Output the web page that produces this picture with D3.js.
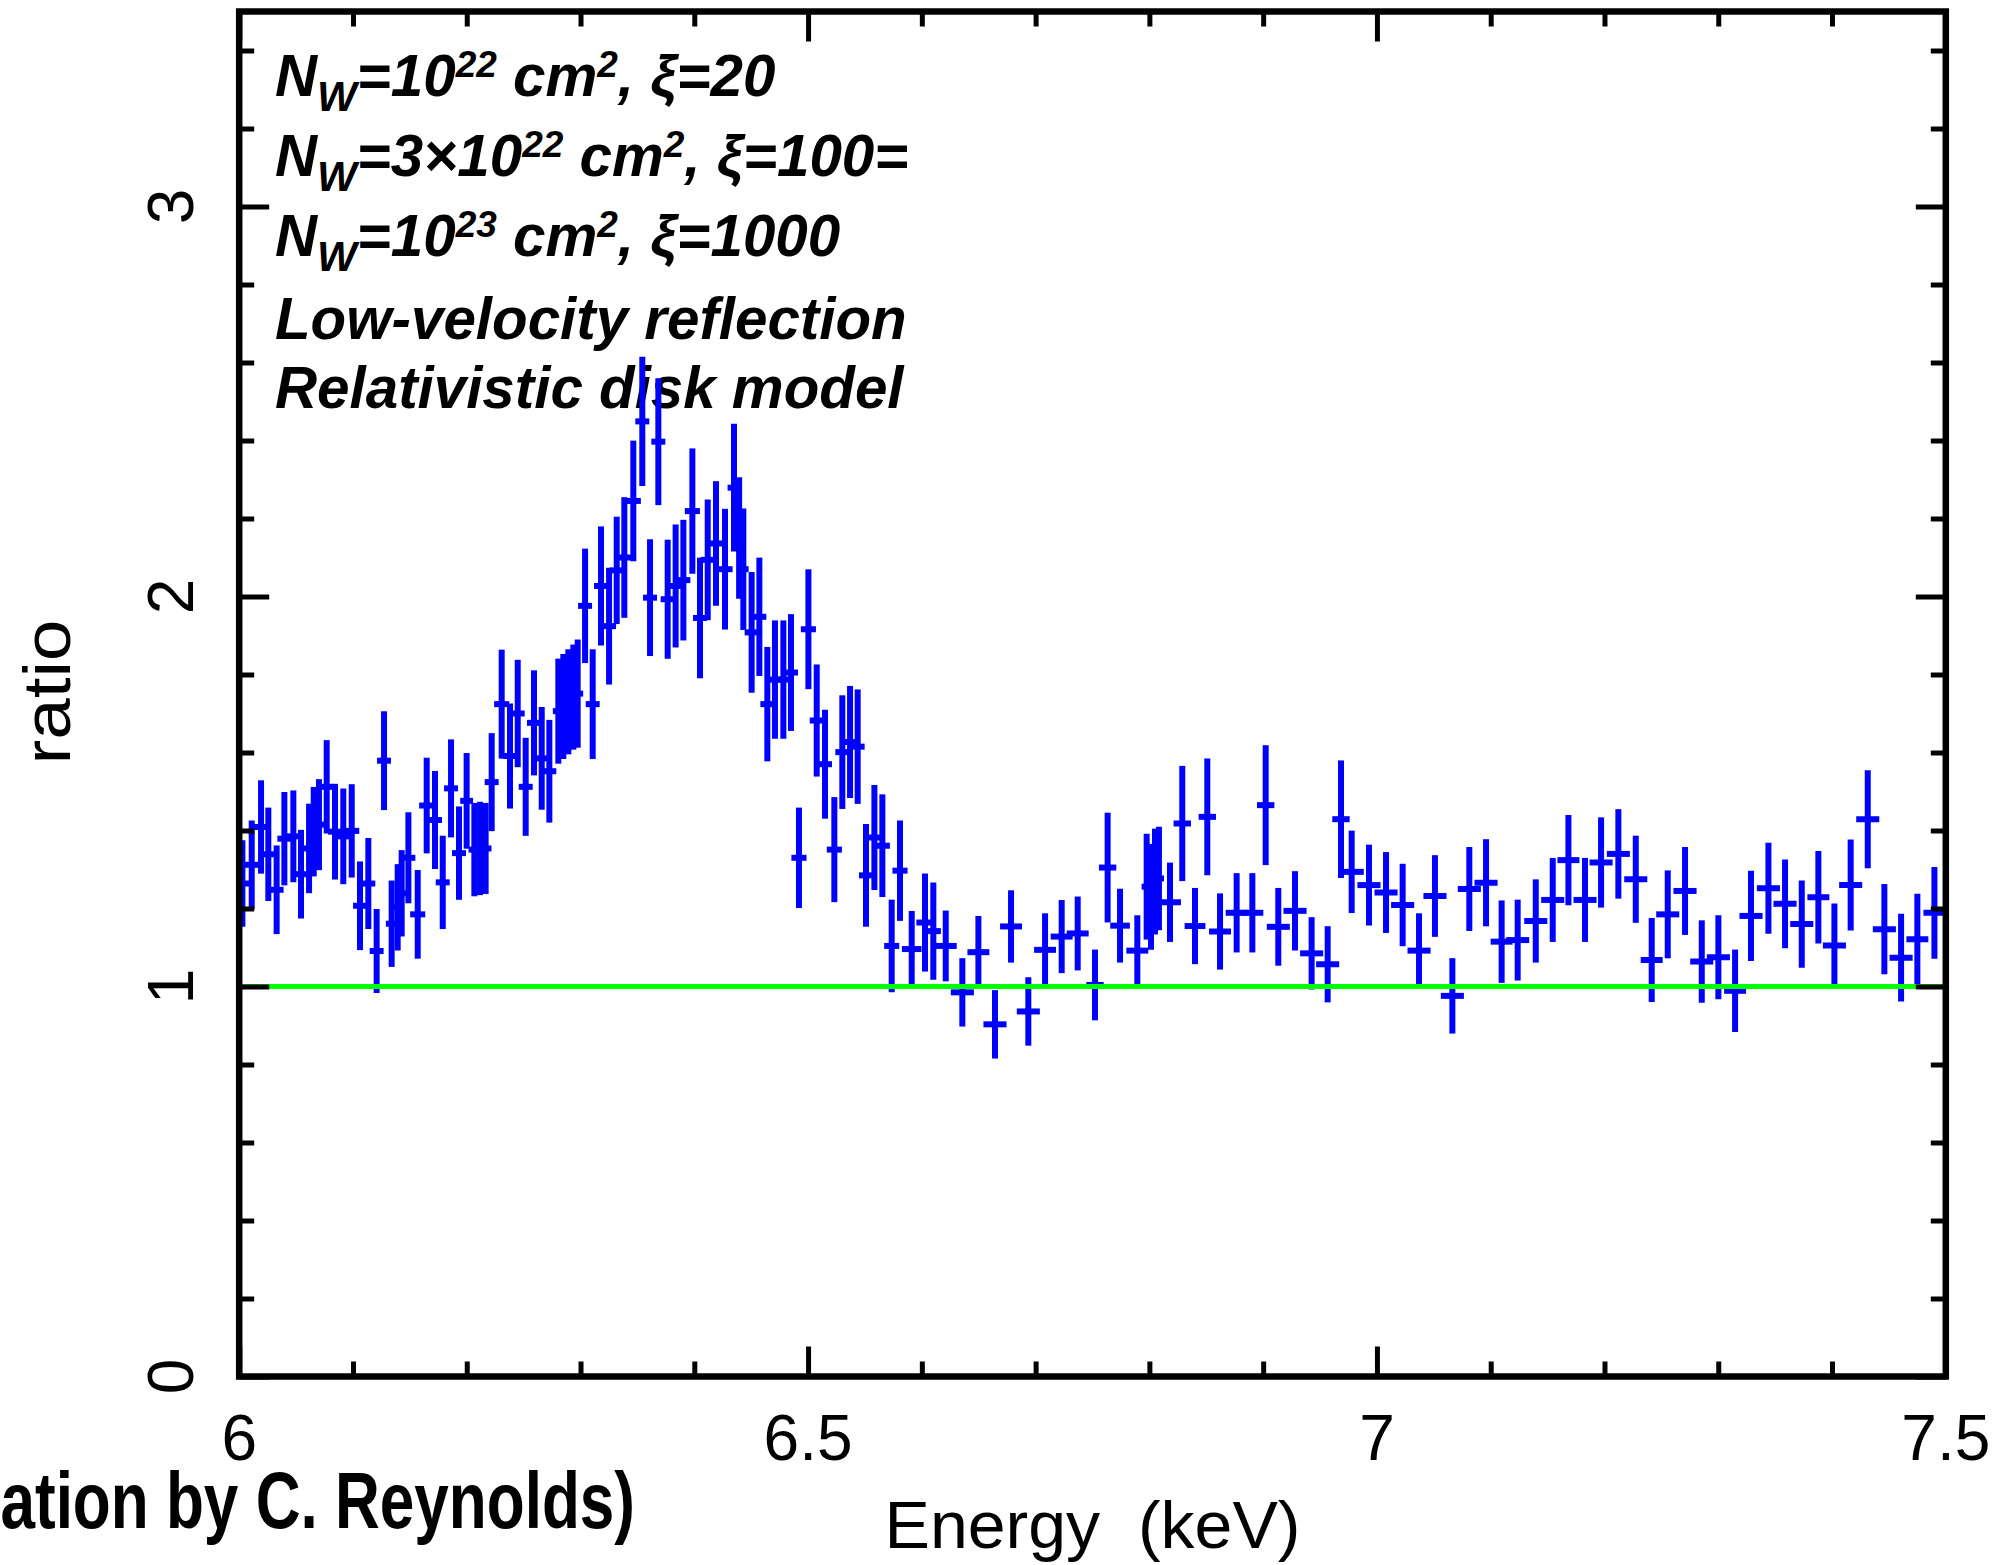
<!DOCTYPE html>
<html>
<head>
<meta charset="utf-8">
<script src="https://cdn.jsdelivr.net/npm/d3@7"></script>
<style>
  html, body { margin: 0; padding: 0; background: #fff; }
  svg { display: block; }
</style>
</head>
<body>
<div id="chart"></div>
<script>
// Fe K band residuals: data/model ratio against energy, with the unit-ratio model line.

// Bin centres (keV)
const energy = [
  6.0028, 6.0110, 6.0192, 6.0256, 6.0329, 6.0397, 6.0476, 6.0543, 6.0614, 6.0655,
  6.0701, 6.0769, 6.0842, 6.0915, 6.0989, 6.1062, 6.1135, 6.1208, 6.1273, 6.1340,
  6.1393, 6.1428, 6.1487, 6.1569, 6.1648, 6.1721, 6.1789, 6.1862, 6.1932, 6.1999,
  6.2067, 6.2117, 6.2166, 6.2219, 6.2307, 6.2380, 6.2448, 6.2518, 6.2591, 6.2659,
  6.2726, 6.2805, 6.2849, 6.2893, 6.2937, 6.2975, 6.3040, 6.3107, 6.3180, 6.3251,
  6.3318, 6.3385, 6.3464, 6.3543, 6.3611, 6.3684, 6.3766, 6.3836, 6.3904, 6.3983,
  6.4050, 6.4118, 6.4191, 6.4270, 6.4349, 6.4394, 6.4431, 6.4504, 6.4572, 6.4642,
  6.4709, 6.4783, 6.4850, 6.4920, 6.5003, 6.5076, 6.5149, 6.5231, 6.5301, 6.5369,
  6.5436, 6.5509, 6.5583, 6.5653, 6.5735, 6.5808, 6.5911, 6.6028, 6.6101, 6.6210,
  6.6356, 6.6497, 6.6643, 6.6784, 6.6936, 6.7083, 6.7229, 6.7370, 6.7522, 6.7633,
  6.7742, 6.7894, 6.7976, 6.8014, 6.8049, 6.8084, 6.8181, 6.8289, 6.8401, 6.8509,
  6.8621, 6.8767, 6.8905, 6.9022, 6.9133, 6.9280, 6.9426, 6.9567, 6.9684, 6.9778,
  6.9930, 7.0080, 7.0226, 7.0370, 7.0510, 7.0663, 7.0812, 7.0959, 7.1096, 7.1237,
  7.1396, 7.1545, 7.1683, 7.1829, 7.1970, 7.2122, 7.2275, 7.2415, 7.2556, 7.2708,
  7.2855, 7.3001, 7.3148, 7.3288, 7.3441, 7.3587, 7.3734, 7.3880, 7.4021, 7.4164,
  7.4314, 7.4460, 7.4607, 7.4750, 7.4900
];

// Bin half widths (keV)
const binHalfWidth = [
  0.0035, 0.0040, 0.0040, 0.0035, 0.0035, 0.0035, 0.0040, 0.0035, 0.0025, 0.0020,
  0.0030, 0.0035, 0.0035, 0.0035, 0.0040, 0.0035, 0.0035, 0.0035, 0.0035, 0.0025,
  0.0020, 0.0020, 0.0035, 0.0040, 0.0040, 0.0035, 0.0035, 0.0035, 0.0035, 0.0030,
  0.0025, 0.0025, 0.0025, 0.0035, 0.0040, 0.0035, 0.0035, 0.0035, 0.0035, 0.0035,
  0.0035, 0.0022, 0.0022, 0.0022, 0.0022, 0.0022, 0.0035, 0.0035, 0.0035, 0.0035,
  0.0035, 0.0035, 0.0040, 0.0035, 0.0035, 0.0035, 0.0035, 0.0035, 0.0035, 0.0040,
  0.0035, 0.0035, 0.0040, 0.0040, 0.0030, 0.0020, 0.0020, 0.0035, 0.0035, 0.0035,
  0.0035, 0.0035, 0.0035, 0.0040, 0.0040, 0.0035, 0.0035, 0.0040, 0.0035, 0.0035,
  0.0035, 0.0035, 0.0035, 0.0040, 0.0040, 0.0040, 0.0060, 0.0050, 0.0040, 0.0070,
  0.0075, 0.0070, 0.0075, 0.0070, 0.0075, 0.0070, 0.0070, 0.0070, 0.0050, 0.0050,
  0.0060, 0.0070, 0.0018, 0.0018, 0.0018, 0.0018, 0.0070, 0.0050, 0.0065, 0.0050,
  0.0070, 0.0070, 0.0070, 0.0050, 0.0075, 0.0075, 0.0075, 0.0075, 0.0050, 0.0080,
  0.0075, 0.0075, 0.0075, 0.0075, 0.0075, 0.0075, 0.0075, 0.0075, 0.0070, 0.0075,
  0.0075, 0.0075, 0.0070, 0.0075, 0.0075, 0.0075, 0.0075, 0.0070, 0.0075, 0.0075,
  0.0075, 0.0075, 0.0070, 0.0075, 0.0075, 0.0075, 0.0075, 0.0070, 0.0075, 0.0075,
  0.0075, 0.0075, 0.0075, 0.0070, 0.0070
];

// Data / model ratio
const ratio = [
  1.264, 1.312, 1.409, 1.339, 1.248, 1.379, 1.385, 1.288, 1.354, 1.397,
  1.415, 1.512, 1.397, 1.385, 1.399, 1.207, 1.264, 1.091, 1.579, 1.161,
  1.203, 1.239, 1.330, 1.185, 1.464, 1.427, 1.267, 1.508, 1.342, 1.476,
  1.351, 1.354, 1.354, 1.524, 1.724, 1.591, 1.700, 1.512, 1.676, 1.585,
  1.552, 1.706, 1.718, 1.730, 1.742, 1.751, 1.976, 1.724, 2.027, 1.924,
  2.067, 2.100, 2.245, 2.449, 1.997, 2.397, 1.993, 2.027, 2.042, 2.219,
  1.945, 2.094, 2.136, 2.070, 2.279, 2.150, 2.070, 1.908, 1.948, 1.724,
  1.787, 1.787, 1.805, 1.330, 1.916, 1.682, 1.570, 1.351, 1.601, 1.627,
  1.615, 1.285, 1.382, 1.361, 1.104, 1.297, 1.096, 1.164, 1.142, 1.104,
  0.985, 1.088, 0.903, 1.154, 0.936, 1.094, 1.128, 1.136, 1.004, 1.305,
  1.156, 1.092, 1.256, 1.230, 1.269, 1.277, 1.216, 1.418, 1.155, 1.435,
  1.141, 1.189, 1.189, 1.465, 1.153, 1.194, 1.085, 1.057, 1.429, 1.294,
  1.260, 1.241, 1.209, 1.092, 1.232, 0.976, 1.250, 1.266, 1.115, 1.119,
  1.168, 1.222, 1.324, 1.222, 1.318, 1.340, 1.275, 1.068, 1.185, 1.245,
  1.064, 1.075, 0.989, 1.181, 1.252, 1.212, 1.160, 1.229, 1.105, 1.260,
  1.429, 1.147, 1.074, 1.121, 1.189
];

// Symmetric 1-sigma errors on the ratio
const ratioErr = [
  0.103, 0.106, 0.112, 0.112, 0.106, 0.112, 0.110, 0.106, 0.107, 0.107,
  0.109, 0.112, 0.115, 0.115, 0.112, 0.106, 0.109, 0.100, 0.119, 0.103,
  0.103, 0.103, 0.109, 0.106, 0.115, 0.118, 0.112, 0.118, 0.112, 0.115,
  0.112, 0.112, 0.109, 0.118, 0.132, 0.127, 0.130, 0.118, 0.127, 0.124,
  0.124, 0.127, 0.127, 0.127, 0.127, 0.131, 0.139, 0.133, 0.145, 0.142,
  0.130, 0.147, 0.147, 0.158, 0.142, 0.155, 0.145, 0.150, 0.147, 0.153,
  0.147, 0.147, 0.152, 0.147, 0.156, 0.148, 0.148, 0.147, 0.144, 0.139,
  0.144, 0.144, 0.142, 0.121, 0.146, 0.136, 0.132, 0.127, 0.138, 0.136,
  0.139, 0.124, 0.127, 0.124, 0.111, 0.121, 0.090, 0.118, 0.117, 0.083,
  0.080, 0.085, 0.080, 0.085, 0.080, 0.086, 0.086, 0.087, 0.083, 0.133,
  0.087, 0.083, 0.128, 0.128, 0.128, 0.125, 0.094, 0.140, 0.090, 0.142,
  0.090, 0.094, 0.094, 0.146, 0.092, 0.094, 0.085, 0.090, 0.143, 0.098,
  0.096, 0.096, 0.098, 0.088, 0.097, 0.089, 0.100, 0.104, 0.098, 0.096,
  0.099, 0.100, 0.108, 0.100, 0.108, 0.107, 0.104, 0.100, 0.105, 0.105,
  0.098, 0.100, 0.098, 0.108, 0.109, 0.106, 0.104, 0.111, 0.100, 0.109,
  0.118, 0.108, 0.105, 0.109, 0.110
];

// Model level
const modelRatio = 1;

// Axis ticks and labels
const xDomain = [6, 7.5];
const yDomain = [0, 3.5];
const xMajorTicks = [6, 6.5, 7, 7.5];
const xTickLabels = ["6", "6.5", "7", "7.5"];
const xMinorTicks = [6.1, 6.2, 6.3, 6.4, 6.6, 6.7, 6.8, 6.9, 7.1, 7.2, 7.3, 7.4];
const yMajorTicks = [0, 1, 2, 3];
const yTickLabels = ["0", "1", "2", "3"];
const yMinorTicks = [0.2, 0.4, 0.6, 0.8, 1.2, 1.4, 1.6, 1.8, 2.2, 2.4, 2.6, 2.8, 3.2, 3.4];
const xTitle = "Energy  (keV)";
const yTitle = "ratio";
const credit = "(Simulation by C. Reynolds)";

// ---------------------------------------------------------------
const W = 2006, H = 1565;
const plot = { left: 239.2, right: 1945.8, top: 11.5, bottom: 1376.5 };

const svg = d3.select("#chart").append("svg")
  .attr("width", W).attr("height", H)
  .attr("viewBox", `0 0 ${W} ${H}`);

svg.append("rect").attr("width", W).attr("height", H).attr("fill", "#fff");

const x = d3.scaleLinear().domain(xDomain).range([plot.left, plot.right]);
const y = d3.scaleLinear().domain(yDomain).range([plot.bottom, plot.top]);

// Annotation block (bold italic), drawn beneath the data
const noteFont = "'Liberation Sans', Arial, Helvetica, sans-serif";
const notes = svg.append("g")
  .attr("font-family", noteFont)
  .attr("font-weight", "bold")
  .attr("font-style", "italic")
  .attr("font-size", 58.3)
  .attr("fill", "#000");

function windLine(baseline, parts) {
  const t = notes.append("text").attr("x", 275).attr("y", baseline);
  parts.forEach(p => {
    const s = t.append("tspan").text(p.t);
    if (p.size) s.attr("font-size", p.size);
    if (p.dy) s.attr("dy", p.dy);
  });
  return t;
}
const windRows = [
  { base: 96,  pre: "=10",   exp: "22", xi: "20" },
  { base: 176, pre: "=3×10", exp: "22", xi: "100=" },
  { base: 256, pre: "=10",   exp: "23", xi: "1000" }
];
windRows.forEach(r => {
  windLine(r.base, [
    { t: "N" },
    { t: "W", size: 42, dy: 15 },
    { t: r.pre, dy: -15 },
    { t: r.exp, size: 37, dy: -19 },
    { t: " cm", dy: 19 },
    { t: "2", size: 37, dy: -19 },
    { t: ", ξ=" + r.xi, dy: 19 }
  ]);
});
notes.append("text").attr("x", 275).attr("y", 339).text("Low-velocity reflection");
notes.append("text").attr("x", 275).attr("y", 408).text("Relativistic disk model");

// Data: error crosses (bin width horizontally, 1-sigma vertically)
svg.append("defs").append("clipPath").attr("id", "plotClip")
  .append("rect")
  .attr("x", plot.left).attr("y", plot.top)
  .attr("width", plot.right - plot.left).attr("height", plot.bottom - plot.top);

const points = energy.map((e, i) => ({ e, hw: binHalfWidth[i], r: ratio[i], err: ratioErr[i] }));

const dataG = svg.append("g")
  .attr("clip-path", "url(#plotClip)")
  .attr("stroke", "#0000ff")
  .attr("stroke-width", 6)
  .attr("stroke-linecap", "square");

dataG.selectAll("line.vbar").data(points).join("line")
  .attr("class", "vbar")
  .attr("x1", d => x(d.e)).attr("x2", d => x(d.e))
  .attr("y1", d => y(d.r - d.err)).attr("y2", d => y(d.r + d.err));

dataG.selectAll("line.hbar").data(points).join("line")
  .attr("class", "hbar")
  .attr("x1", d => x(d.e - d.hw)).attr("x2", d => x(d.e + d.hw))
  .attr("y1", d => y(d.r)).attr("y2", d => y(d.r));

// Model line
svg.append("line")
  .attr("x1", x(xDomain[0])).attr("x2", x(xDomain[1]))
  .attr("y1", y(modelRatio)).attr("y2", y(modelRatio))
  .attr("stroke", "#00ff00").attr("stroke-width", 5);

// Inward ticks on all four sides
function tickSide(axisGen, values, len, transform) {
  const g = svg.append("g").attr("transform", transform)
    .call(axisGen.tickValues(values).tickSize(-len).tickSizeOuter(0).tickFormat(""));
  g.select(".domain").remove();
  g.selectAll(".tick text").remove();
  g.selectAll(".tick line").attr("stroke", "#000").attr("stroke-width", 5);
}
const majorLen = 30, minorLen = 15;
tickSide(d3.axisBottom(x), xMajorTicks, majorLen, `translate(0,${plot.bottom})`);
tickSide(d3.axisBottom(x), xMinorTicks, minorLen, `translate(0,${plot.bottom})`);
tickSide(d3.axisTop(x), xMajorTicks, majorLen, `translate(0,${plot.top})`);
tickSide(d3.axisTop(x), xMinorTicks, minorLen, `translate(0,${plot.top})`);
tickSide(d3.axisLeft(y), yMajorTicks, majorLen, `translate(${plot.left},0)`);
tickSide(d3.axisLeft(y), yMinorTicks, minorLen, `translate(${plot.left},0)`);
tickSide(d3.axisRight(y), yMajorTicks, majorLen, `translate(${plot.right},0)`);
tickSide(d3.axisRight(y), yMinorTicks, minorLen, `translate(${plot.right},0)`);

// Frame
svg.append("rect")
  .attr("x", plot.left).attr("y", plot.top)
  .attr("width", plot.right - plot.left).attr("height", plot.bottom - plot.top)
  .attr("fill", "none").attr("stroke", "#000").attr("stroke-width", 6.5)
  .attr("stroke-linejoin", "miter");

// Tick labels and axis titles
const axisFont = "'Liberation Sans', Arial, Helvetica, sans-serif";
const labels = svg.append("g").attr("font-family", axisFont).attr("fill", "#000");

labels.selectAll("text.xl").data(xMajorTicks).join("text")
  .attr("class", "xl")
  .attr("x", d => x(d)).attr("y", 1460)
  .attr("text-anchor", "middle").attr("font-size", 64)
  .text((d, i) => xTickLabels[i]);

labels.selectAll("text.yl").data(yMajorTicks).join("text")
  .attr("class", "yl")
  .attr("transform", d => `translate(193,${y(d)}) rotate(-90)`)
  .attr("text-anchor", "middle").attr("font-size", 64)
  .text((d, i) => yTickLabels[i]);

labels.append("text")
  .attr("x", (plot.left + plot.right) / 2).attr("y", 1548)
  .attr("text-anchor", "middle").attr("font-size", 66)
  .attr("textLength", 416).attr("lengthAdjust", "spacingAndGlyphs")
  .style("white-space", "pre")
  .text(xTitle);

labels.append("text")
  .attr("transform", "translate(70,692) rotate(-90)")
  .attr("text-anchor", "middle").attr("font-size", 66)
  .attr("textLength", 145).attr("lengthAdjust", "spacingAndGlyphs")
  .text(yTitle);

// Credit line in condensed bold
const creditScale = 0.776;
svg.append("text")
  .attr("transform", `scale(${creditScale},1)`)
  .attr("x", 635 / creditScale).attr("y", 1528)
  .attr("text-anchor", "end")
  .attr("font-family", "'Liberation Sans', Arial, sans-serif")
  .attr("font-weight", "bold")
  .attr("font-size", 80)
  .attr("fill", "#000")
  .text(credit);
</script>
</body>
</html>
